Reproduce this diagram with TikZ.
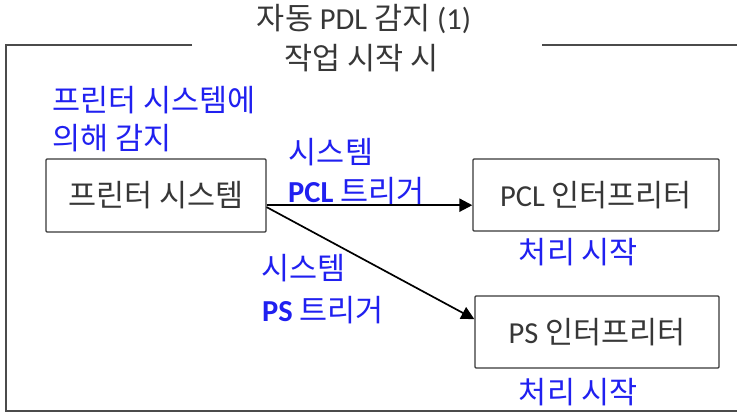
\documentclass[tikz,border=0pt]{standalone}
\usepackage{fontspec}
\setmainfont{Noto Sans CJK KR}
\newfontfamily\latin{Carlito}
\usetikzlibrary{arrows.meta,positioning}
\definecolor{lblue}{RGB}{32,32,240}
\definecolor{dgray}{RGB}{55,55,55}
\definecolor{fgray}{RGB}{75,75,75}
\begin{document}
\begin{tikzpicture}[x=1pt,y=-1pt,font=\fontsize{30.5}{36}\selectfont,
  box/.style={draw=dgray,line width=1.3pt,rounded corners=1pt,minimum width=#1,minimum height=72pt,inner sep=0pt,text=dgray},
  lbl/.style={text=lblue,inner sep=0pt},
  ttl/.style={text=dgray,inner sep=0pt},
  frame/.style={draw=fgray,line width=1.8pt},
  trig/.style={draw=black,-{Triangle[length=13pt,width=13pt]}}]
\useasboundingbox (0,0) rectangle (737,413);
\draw[frame] (192,45)--(6,45)--(6,411)--(737,411);
\draw[frame] (542,45)--(737,45);
\node[ttl] (title) at (364,19.5) {자동 {\latin PDL} 감지 {\latin (1)}};
\node[ttl] (jobstart) at (361.5,58) {작업 시작 시};
\node[lbl,anchor=west] (detect) at (52,100.5) {프린터 시스템에};
\node[lbl,anchor=west] (detectb) at (52,138) {의해 감지};
\node[box=220pt,minimum height=73pt] (sys) at (156,195.5) {프린터 시스템};
\node[box=246pt] (pcl) at (596,195) {{\latin PCL} 인터프리터};
\node[box=244pt] (ps) at (597,332) {{\latin PS} 인터프리터};
\node[lbl] (pclsys) at (331,152.5) {시스템};
\node[lbl,anchor=west] (pcltrig) at (288,191.5) {{\latin\bfseries PCL} 트리거};
\node[lbl] (pssys) at (303.5,268) {시스템};
\node[lbl,anchor=west] (pstrig) at (262,310) {{\latin\bfseries PS} 트리거};
\node[lbl] (pclrun) at (578.5,252.5) {처리 시작};
\node[lbl] (psrun) at (578.5,392.5) {처리 시작};
\draw[trig,line width=2.3pt] (sys.-5)--(sys.-5 -| pcl.west);
\draw[trig,line width=1.7pt] (sys.-6.5)--(ps.174);
\end{tikzpicture}
\end{document}
